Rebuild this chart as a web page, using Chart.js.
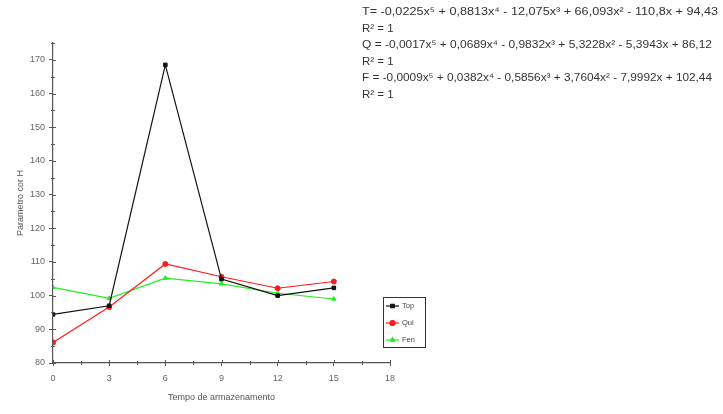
<!DOCTYPE html>
<html>
<head>
<meta charset="utf-8">
<script src="https://cdn.jsdelivr.net/npm/chart.js@4/dist/chart.umd.min.js"></script>
<style>
  html, body { margin: 0; padding: 0; background: #fff; }
  #wrap { position: relative; width: 723px; height: 414px; }
  canvas { display: block; }
</style>
</head>
<body>
<div id="wrap"><canvas id="c" width="723" height="414"></canvas></div>
<script>
// Storage time (x) and measured parameter for each treatment
const tempos = [0, 3, 6, 9, 12, 15];
const top_ = [94.43, 97.0, 168.5, 104.9, 100.0, 102.3];
const qui = [86.12, 96.6, 109.4, 105.6, 102.2, 104.2];
const fen = [102.44, 99.2, 105.2, 103.5, 100.7, 99.0];

const seriesNames = ['Top', 'Qui', 'Fen'];
const seriesColors = ['#111111', '#ff1a1a', '#22ee22'];
const seriesMarkers = ['rect', 'circle', 'triangle'];

const yTicksMajor = [80, 90, 100, 110, 120, 130, 140, 150, 160, 170];

// Fitted polynomial equations shown at the top right
const equacoes = [
  'T= -0,0225x\u2075 + 0,8813x\u2074 - 12,075x\u00b3 + 66,093x\u00b2 - 110,8x + 94,43',
  'R\u00b2 = 1',
  'Q = -0,0017x\u2075 + 0,0689x\u2074 - 0,9832x\u00b3 + 5,3228x\u00b2 - 5,3943x + 86,12',
  'R\u00b2 = 1',
  'F = -0,0009x\u2075 + 0,0382x\u2074 - 0,5856x\u00b3 + 3,7604x\u00b2 - 7,9992x + 102,44',
  'R\u00b2 = 1'
];

const pts = arr => tempos.map((t, i) => ({ x: t, y: arr[i] }));
const valores = [top_, qui, fen];

const datasets = valores.map((v, i) => ({
  label: seriesNames[i],
  data: pts(v),
  borderColor: seriesColors[i],
  backgroundColor: seriesColors[i],
  borderWidth: 1.2,
  pointStyle: seriesMarkers[i],
  pointRadius: 2.5,
  pointBorderWidth: 1,
  tension: 0
}));

// Minor tick marks on both axes
const minorTicks = {
  id: 'minorTicks',
  afterDraw(chart) {
    const ctx = chart.ctx;
    const xs = chart.scales.x, ys = chart.scales.y;
    ctx.save();
    ctx.strokeStyle = '#555';
    ctx.lineWidth = 1;
    ctx.beginPath();
    for (let v = 85; v <= 175; v += 10) {
      const py = Math.round(ys.getPixelForValue(v)) + 0.5;
      ctx.moveTo(xs.left - 2, py); ctx.lineTo(xs.left + 2, py);
    }
    for (const v of yTicksMajor) {
      const py = Math.round(ys.getPixelForValue(v)) + 0.5;
      ctx.moveTo(xs.left, py); ctx.lineTo(xs.left + 3, py);
    }
    const by = ys.bottom;
    for (let v = 1.5; v <= 18; v += 3) {
      const px = Math.round(xs.getPixelForValue(v)) + 0.5;
      ctx.moveTo(px, by - 2); ctx.lineTo(px, by + 2);
    }
    for (let v = 0; v <= 18; v += 3) {
      const px = Math.round(xs.getPixelForValue(v)) + 0.5;
      ctx.moveTo(px, by); ctx.lineTo(px, by - 3);
    }
    ctx.stroke();
    ctx.restore();
  }
};

// Boxed legend placed to the right of the plot
const boxLegend = {
  id: 'boxLegend',
  afterDraw(chart) {
    const ctx = chart.ctx;
    const bx = 383, byTop = 297, bw = 42, bh = 50;
    ctx.save();
    ctx.fillStyle = '#fff';
    ctx.fillRect(bx, byTop, bw, bh);
    ctx.strokeStyle = '#333';
    ctx.lineWidth = 1;
    ctx.strokeRect(bx + 0.5, byTop + 0.5, bw, bh);
    ctx.font = '7.5px "Liberation Sans", Arial, sans-serif';
    ctx.textBaseline = 'middle';
    chart.data.datasets.forEach((ds, i) => {
      const y = byTop + 9 + i * 17;
      ctx.strokeStyle = ds.borderColor;
      ctx.lineWidth = 1.2;
      ctx.beginPath();
      ctx.moveTo(bx + 3, y); ctx.lineTo(bx + 16, y);
      ctx.stroke();
      Chart.helpers.drawPoint(ctx, { pointStyle: ds.pointStyle, radius: 2.5, borderWidth: 1 }, bx + 9.5, y);
      ctx.fillStyle = ds.borderColor;
      ctx.fill();
      ctx.fillStyle = '#444';
      ctx.fillText(ds.label, bx + 19, y);
    });
    ctx.restore();
  }
};

// Equation block, each long line stretched to its printed width
const equationText = {
  id: 'equationText',
  afterDraw(chart) {
    const ctx = chart.ctx;
    ctx.save();
    ctx.fillStyle = '#333';
    ctx.font = '11.5px "Liberation Sans", Arial, sans-serif';
    ctx.textBaseline = 'middle';
    const lineY = [12, 29, 45, 62, 78, 95];
    const widths = [356, 0, 350, 0, 350, 0];
    equacoes.forEach((s, i) => {
      const w = ctx.measureText(s).width;
      const target = widths[i] || w;
      ctx.save();
      ctx.translate(362, lineY[i]);
      ctx.scale(target / w, 1);
      ctx.fillText(s, 0, 0);
      ctx.restore();
    });
    ctx.restore();
  }
};

new Chart(document.getElementById('c'), {
  type: 'line',
  data: { datasets },
  options: {
    responsive: false,
    animation: false,
    layout: { padding: { top: 43, right: 333, left: 0, bottom: 0 } },
    plugins: { legend: { display: false }, tooltip: { enabled: false } },
    scales: {
      x: {
        type: 'linear',
        min: 0, max: 18,
        afterBuildTicks: s => { s.ticks = [0, 3, 6, 9, 12, 15, 18].map(v => ({ value: v })); },
        afterFit: s => { s.height = 51; },
        grid: { drawOnChartArea: false, drawTicks: true, tickLength: 3, tickColor: '#555' },
        border: { color: '#555', width: 1.2 },
        ticks: { color: '#666', font: { size: 9, family: '"Liberation Sans", Arial, sans-serif' }, padding: 7, maxRotation: 0 },
        title: {
          display: true, text: 'Tempo de armazenamento', color: '#555',
          font: { size: 9, family: '"Liberation Sans", Arial, sans-serif' },
          padding: { top: 0, bottom: 11 }
        }
      },
      y: {
        type: 'linear',
        min: 80, max: 175,
        afterBuildTicks: s => { s.ticks = yTicksMajor.map(v => ({ value: v })); },
        afterFit: s => { s.width = 53; },
        grid: { drawOnChartArea: false, drawTicks: true, tickLength: 4, tickColor: '#555' },
        border: { color: '#555', width: 1.2 },
        ticks: { color: '#666', font: { size: 9, family: '"Liberation Sans", Arial, sans-serif' }, padding: 4 },
        title: {
          display: true, text: 'Parametro cor H', color: '#555',
          font: { size: 9, family: '"Liberation Sans", Arial, sans-serif' },
          padding: { top: 15, bottom: 0 }
        }
      }
    }
  },
  plugins: [minorTicks, boxLegend, equationText]
});
</script>
</body>
</html>
